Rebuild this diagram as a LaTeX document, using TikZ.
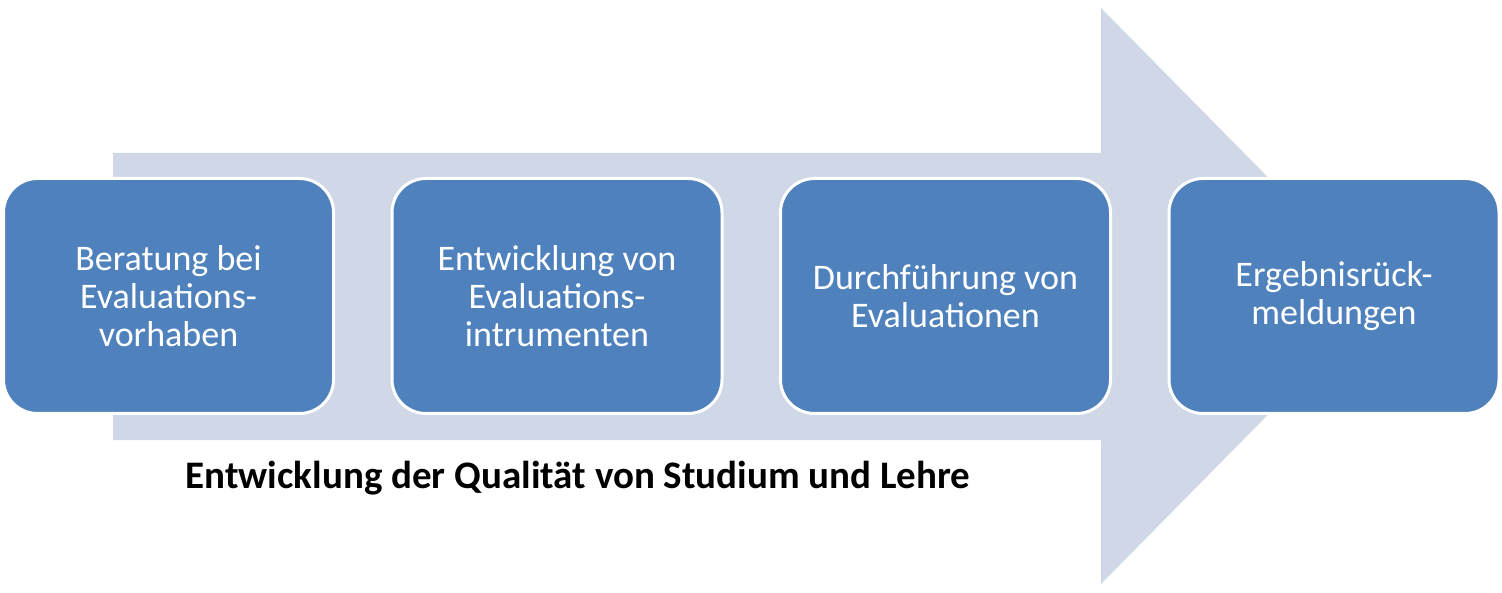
\documentclass[tikz,border=0pt]{standalone}
\usepackage{fontspec}
\setmainfont{Carlito}
\definecolor{boxblue}{HTML}{4F81BD}
\definecolor{arrowgray}{HTML}{D0D8E8}
\tikzset{
  stepbox/.style={draw=white, line width=3pt, fill=boxblue, rounded corners=34pt,
    minimum width=330pt, minimum height=235pt, text=white, align=center,
    font=\fontsize{36}{38}\selectfont, inner sep=0pt},
  biglabel/.style={font=\fontsize{39}{44}\selectfont\bfseries, text=black, inner sep=0pt}
}
\begin{document}
\begin{tikzpicture}[x=1pt,y=-1pt]
\useasboundingbox (0,0) rectangle (1502,593);
\fill[white] (0,0) rectangle (1502,593);
\fill[arrowgray] (113,153) -- (1101,153) -- (1101,8) -- (1385,296) -- (1101,584) -- (1101,440) -- (113,440) -- cycle;
\node[stepbox] (b1) at (168.5,296) {Beratung bei\\Evaluations-\\vorhaben};
\node[stepbox] (b2) at (557,296) {Entwicklung von\\Evaluations-\\intrumenten};
\node[stepbox] (b3) at (945.5,296) {Durchführung von\\Evaluationen};
\node[stepbox] (b4) at (1334,296) {Ergebnisrück-\\meldungen};
\node[biglabel] (lbl) at (578,478) {Entwicklung der Qualität von Studium und Lehre};
\end{tikzpicture}
\end{document}
